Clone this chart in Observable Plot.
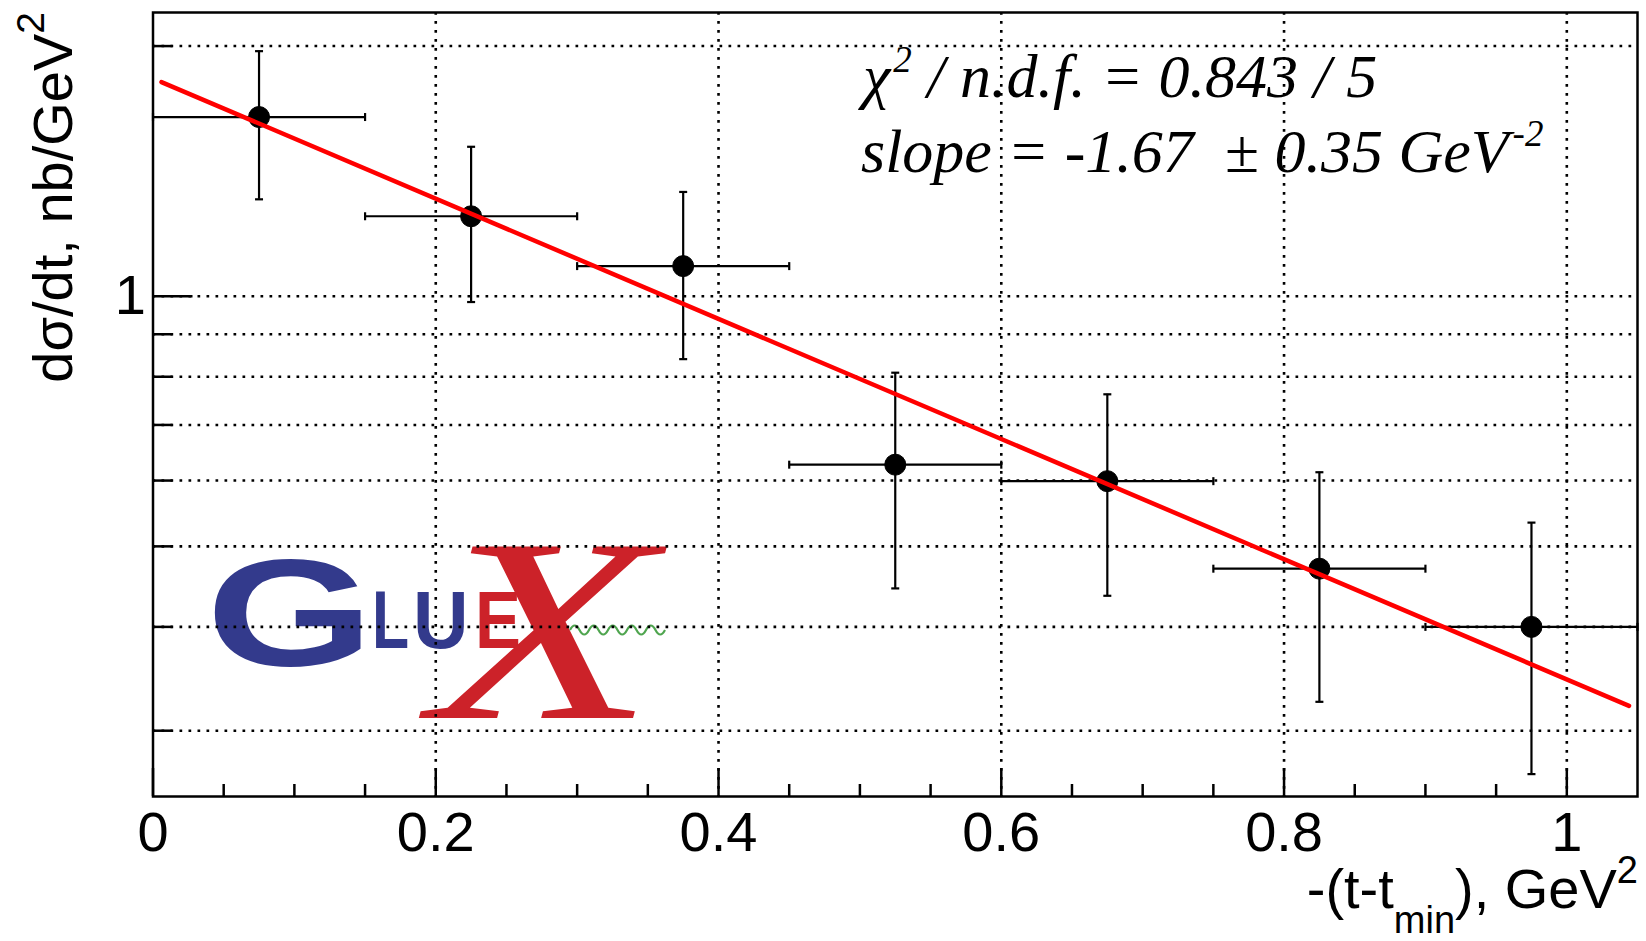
<!DOCTYPE html>
<html><head><meta charset="utf-8">
<script src="https://cdn.jsdelivr.net/npm/d3@7"></script>
<script src="https://cdn.jsdelivr.net/npm/@observablehq/plot@0.6"></script>
<style>
body{margin:0;background:#fff}
#chart{position:relative;width:1646px;height:941px}
</style>
</head><body><div id="chart"></div>
<script>
// ---- data ----
const tCenter  = [0.075, 0.225, 0.375, 0.525, 0.675, 0.825, 0.975];
const tLow     = [0.00, 0.15, 0.30, 0.45, 0.60, 0.75, 0.90];
const tHigh    = [0.15, 0.30, 0.45, 0.60, 0.75, 0.90, 1.05];
const dsdt     = [1.643, 1.248, 1.087, 0.627, 0.599, 0.470, 0.400];
const dsdtLow  = [1.308, 0.984, 0.840, 0.445, 0.436, 0.325, 0.266];
const dsdtHigh = [1.972, 1.513, 1.335, 0.809, 0.762, 0.614, 0.534];
// fitted exponential (straight on the log scale): end points
const fitT = [0.006, 1.044];
const fitY = [1.810, 0.3214];
// axes
const xMajorTicks = [0, 0.2, 0.4, 0.6, 0.8, 1];
const xMinorTicks = [0.05, 0.1, 0.15, 0.25, 0.3, 0.35, 0.45, 0.5, 0.55, 0.65, 0.7, 0.75, 0.85, 0.9, 0.95];
const xGridTicks = [0.2, 0.4, 0.6, 0.8, 1];
const yGridTicks = [0.3, 0.4, 0.5, 0.6, 0.7, 0.8, 0.9, 1, 2];
const yMinorTicks = [0.3, 0.4, 0.5, 0.6, 0.7, 0.8, 0.9, 2];
const yMajorTicks = [1];
const xTickLabels = ["0", "0.2", "0.4", "0.6", "0.8", "1"];
const yTickLabels = ["1"];

const rows = tCenter.map((t, i) => ({t, lo: tLow[i], hi: tHigh[i], y: dsdt[i], ylo: dsdtLow[i], yhi: dsdtHigh[i]}));
const fit = fitT.map((t, i) => ({t, y: fitY[i]}));
const xLabelOf = d => xTickLabels[xMajorTicks.indexOf(d)];
const yLabelOf = d => yTickLabels[yMajorTicks.indexOf(d)];

const hCap = {draw(ctx, size) { const r = Math.sqrt(size / Math.PI); ctx.moveTo(-r, 0); ctx.lineTo(r, 0); }};
const vCap = {draw(ctx, size) { const r = Math.sqrt(size / Math.PI); ctx.moveTo(0, -r); ctx.lineTo(0, r); }};

const SANS = "'Liberation Sans', Arial, Helvetica, sans-serif";
const SERIF = "'Liberation Serif', 'Times New Roman', serif";
const grid = {stroke: "#000", strokeOpacity: 1, strokeWidth: 2.6, strokeDasharray: "2.7,6.3"};

const plot = Plot.plot({
  width: 1646, height: 941,
  marginLeft: 152.5, marginRight: 9, marginTop: 12, marginBottom: 145,
  style: {fontFamily: SANS, background: "white", color: "black"},
  x: {domain: [0, 1.05], label: null},
  y: {type: "log", domain: [0.25, 2.195], label: null},
  marks: [
    Plot.gridX(xGridTicks, grid),
    Plot.gridY(yGridTicks, grid),
    Plot.axisX(xMinorTicks, {tickSize: 12, dy: -12, fill: "none", strokeWidth: 2.5, label: null}),
    Plot.axisX(xMajorTicks, {tickSize: 28, dy: -28, fill: "none", strokeWidth: 2.5, label: null}),
    Plot.axisX(xMajorTicks, {tickSize: 0, tickPadding: 15, fontSize: 56, tickFormat: xLabelOf, label: null}),
    Plot.axisY(yMinorTicks, {anchor: "left", tickSize: 20, dx: 20, fill: "none", strokeWidth: 2.5, label: null}),
    Plot.axisY(yMajorTicks, {anchor: "left", tickSize: 40, dx: 40, fill: "none", strokeWidth: 2.5, label: null}),
    Plot.text(yMajorTicks, {y: d => d, frameAnchor: "left", dx: -7, textAnchor: "end", fontSize: 56, text: yLabelOf, fill: "black"}),
    Plot.frame({stroke: "black", strokeWidth: 2.5}),
    Plot.ruleY(rows, {y: "y", x1: "lo", x2: "hi", stroke: "black", strokeWidth: 2.2}),
    Plot.ruleX(rows, {x: "t", y1: "ylo", y2: "yhi", stroke: "black", strokeWidth: 2.2}),
    Plot.dot(rows, {x: "t", y: "yhi", symbol: hCap, r: 4, fill: "none", stroke: "black", strokeWidth: 2.2}),
    Plot.dot(rows, {x: "t", y: "ylo", symbol: hCap, r: 4, fill: "none", stroke: "black", strokeWidth: 2.2}),
    Plot.dot(rows, {x: "lo", y: "y", symbol: vCap, r: 4, fill: "none", stroke: "black", strokeWidth: 2.2}),
    Plot.dot(rows, {x: "hi", y: "y", symbol: vCap, r: 4, fill: "none", stroke: "black", strokeWidth: 2.2}),
    Plot.dot(rows, {x: "t", y: "y", r: 10.5, fill: "black", stroke: "black", strokeWidth: 1}),
    Plot.line(fit, {x: "t", y: "y", stroke: "#ff0000", strokeWidth: 4.5})
  ]
});
document.getElementById("chart").appendChild(plot);

const svg = d3.select(plot);

// ---- GlueX logo (decoration, drawn beneath grid) ----
const logo = svg.insert("g", "g").attr("text-anchor", "start");
logo.append("text").attr("transform", "translate(206,666) scale(1.42,1)")
  .attr("font-family", SANS).attr("font-weight", "bold").attr("font-size", 152).attr("fill", "#333a8c").text("G");
logo.append("text").attr("transform", "translate(372,648) scale(0.75,1)")
  .attr("font-family", SANS).attr("font-weight", "bold").attr("font-size", 81).attr("fill", "#333a8c").text("L");
logo.append("text").attr("transform", "translate(413,648) scale(0.95,1)")
  .attr("font-family", SANS).attr("font-weight", "bold").attr("font-size", 81).attr("fill", "#333a8c").text("U");
logo.append("text").attr("transform", "translate(475,648) scale(0.85,1)")
  .attr("font-family", SANS).attr("font-weight", "bold").attr("font-size", 81).attr("fill", "#cc2229").text("E");
logo.append("text").attr("transform", "translate(431,718) scale(1.4,1)")
  .attr("font-family", SERIF).attr("font-style", "italic").attr("font-size", 262).attr("fill", "#cc2229").text("X");
let wave = "M570,630 q4.75,-9 9.5,0";
for (let k = 0; k < 9; k++) wave += " t9.5,0";
logo.append("path").attr("d", wave).attr("fill", "none").attr("stroke", "#4fa54f").attr("stroke-width", 2.2);

// ---- axis titles ----
const xt = svg.append("text").attr("x", 1638).attr("y", 908).attr("text-anchor", "end")
  .attr("font-family", SANS).attr("font-size", 56).attr("fill", "black");
xt.append("tspan").text("-(t-t");
xt.append("tspan").attr("font-size", 38).attr("dy", 25).text("min");
xt.append("tspan").attr("dy", -25).text("), GeV");
xt.append("tspan").attr("font-size", 38).attr("dy", -25).text("2");

const yt = svg.append("text").attr("transform", "translate(72,12) rotate(-90)").attr("text-anchor", "end")
  .attr("font-family", SANS).attr("font-size", 56).attr("fill", "black");
yt.append("tspan").text("dσ/dt, nb/GeV");
yt.append("tspan").attr("font-size", 39).attr("dy", -28).text("2");

// ---- fit annotation ----
const f1 = svg.append("text").attr("x", 863).attr("y", 97).attr("text-anchor", "start")
  .attr("font-family", SERIF).attr("font-style", "italic").attr("font-size", 62).attr("fill", "black")
  .style("white-space", "pre");
f1.append("tspan").text("χ");
f1.append("tspan").attr("font-size", 37).attr("dx", 3).attr("dy", -25).text("2");
f1.append("tspan").attr("dy", 25).text(" / n.d.f. = 0.843 / 5");

const f2 = svg.append("text").attr("x", 861).attr("y", 172).attr("text-anchor", "start")
  .attr("font-family", SERIF).attr("font-style", "italic").attr("font-size", 62).attr("fill", "black")
  .style("white-space", "pre");
f2.append("tspan").text("slope = -1.67  ± 0.35 GeV");
f2.append("tspan").attr("font-size", 37).attr("dx", 4).attr("dy", -26).text("-2");
</script>
</body></html>
